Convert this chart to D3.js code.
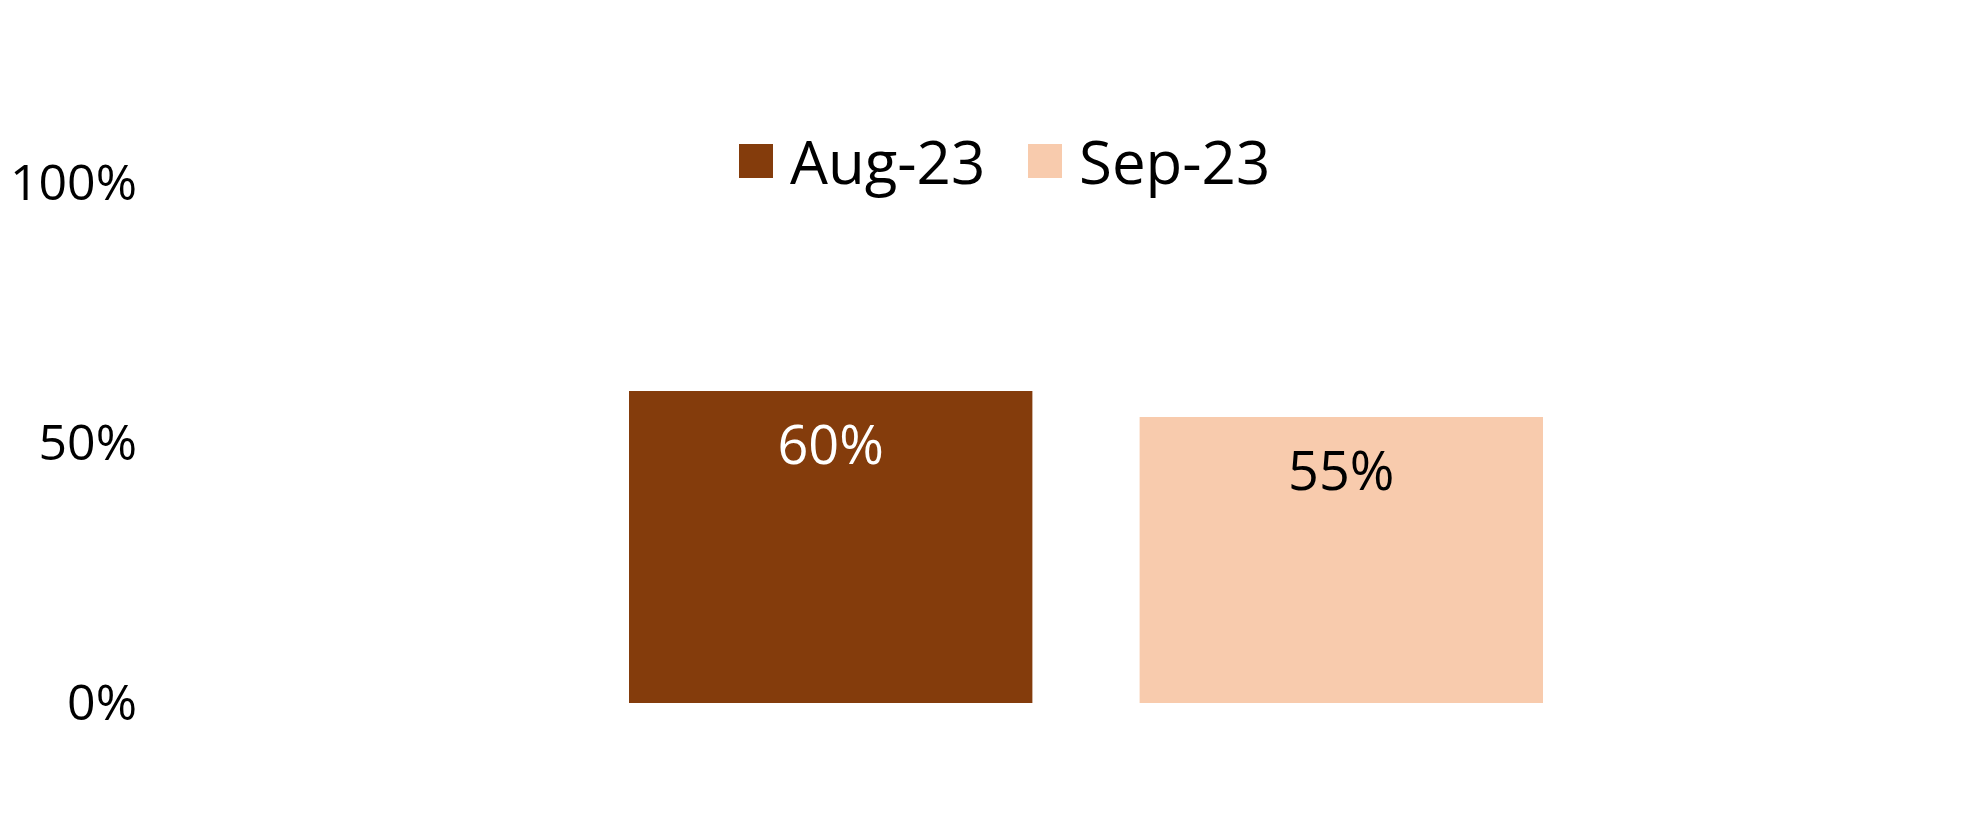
<!DOCTYPE html>
<html>
<head>
<meta charset="utf-8">
<script src="https://cdn.jsdelivr.net/npm/d3@7"></script>
<style>
  body { margin: 0; background: #fff; }
  text { font-family: "Open Sans", "Noto Sans", sans-serif; }
</style>
</head>
<body>
<svg id="Vis" width="1985" height="831"></svg>
<script>
// data
var months = ["Aug-23", "Sep-23"];
var values = [0.60, 0.55];
var colors = ["#843C0C", "#F8CBAD"];
var labelColors = ["#ffffff", "#000000"];
var yTicks = [0, 0.5, 1];

var svg = d3.select("#Vis");

var x = d3.scaleBand()
  .domain(months)
  .range([629, 1543])
  .paddingInner(0.21)
  .paddingOuter(0);

var y = d3.scaleLinear()
  .domain([0, 1])
  .range([703, 183]);

// y axis, labels only
var yAxis = svg.append("g")
  .attr("transform", "translate(137,0)")
  .call(d3.axisLeft(y).tickValues(yTicks).tickSize(0).tickPadding(0).tickFormat(d3.format(".0%")));
yAxis.select(".domain").remove();
yAxis.selectAll("text")
  .style("font-family", "'Open Sans', sans-serif")
  .style("font-size", "50px")
  .attr("fill", "#000");

// bars
svg.selectAll("rect.bar")
  .data(months)
  .enter()
  .append("rect")
  .attr("class", "bar")
  .attr("x", function(d){ return x(d); })
  .attr("width", x.bandwidth())
  .attr("y", function(d,i){ return y(values[i]); })
  .attr("height", function(d,i){ return y(0) - y(values[i]); })
  .attr("fill", function(d,i){ return colors[i]; });

// value labels
svg.selectAll("text.val")
  .data(months)
  .enter()
  .append("text")
  .attr("class", "val")
  .attr("x", function(d){ return x(d) + x.bandwidth()/2; })
  .attr("y", function(d,i){ return y(values[i]) + 52; })
  .attr("text-anchor", "middle")
  .attr("dominant-baseline", "central")
  .style("font-size", "54px")
  .attr("fill", function(d,i){ return labelColors[i]; })
  .text(function(d,i){ return d3.format(".0%")(values[i]); });

// legend
var legendX = [739, 1028];
var legend = svg.selectAll("g.legend")
  .data(months)
  .enter()
  .append("g")
  .attr("class", "legend")
  .attr("transform", function(d,i){ return "translate(" + legendX[i] + ",144)"; });

legend.append("rect")
  .attr("width", 34)
  .attr("height", 34)
  .attr("fill", function(d,i){ return colors[i]; });

legend.append("text")
  .attr("x", 51)
  .attr("y", 17)
  .attr("dominant-baseline", "central")
  .style("font-size", "60px")
  .attr("fill", "#000")
  .text(function(d){ return d; });
</script>
</body>
</html>
